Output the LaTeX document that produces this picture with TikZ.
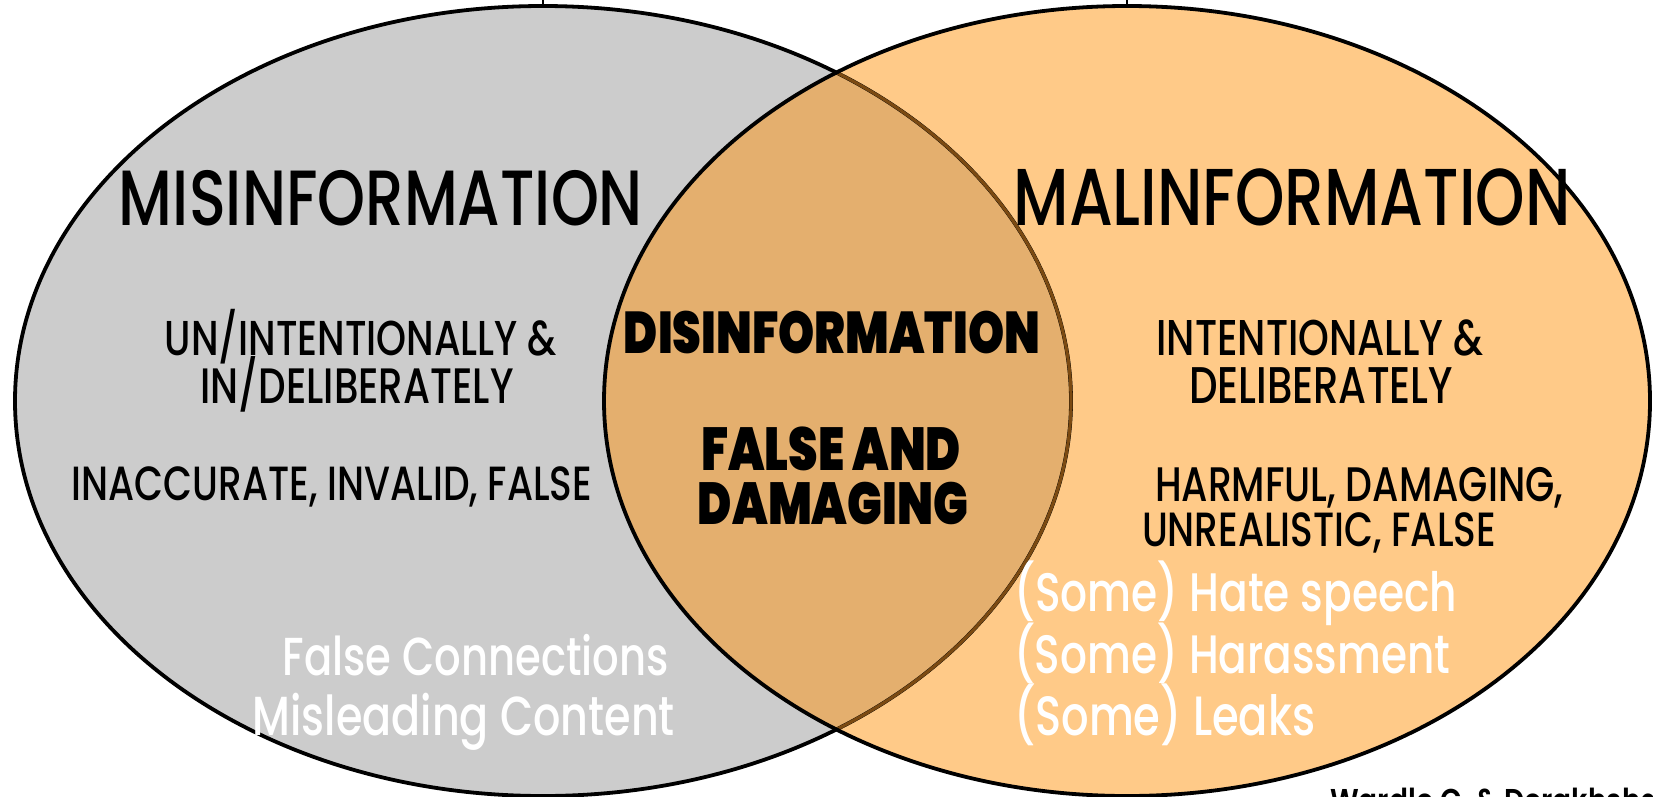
\documentclass[tikz,border=0pt]{standalone}
\usepackage{fontspec}
\usepackage{graphicx}
\newfontfamily\popm{Poppins Medium}[FakeStretch=0.78]
\newfontfamily\popk{Poppins Black}[FakeStretch=0.78]
\newfontfamily\popb{Poppins SemiBold}[FakeStretch=0.85]
\definecolor{grayfill}{HTML}{CCCCCC}
\definecolor{orfill}{HTML}{FFCA88}
\definecolor{midfill}{HTML}{E4AF6E}
\definecolor{brownline}{HTML}{7B4A12}
\newcommand\fitw[2]{\resizebox{#1pt}{!}{#2}}
\tikzset{
  edge/.style={draw=black, line width=3.8pt},
  inneredge/.style={draw=brownline, line width=3.2pt},
  lab/.style={inner sep=0pt, font=\popm\fontsize{40}{48}\selectfont, text=black},
  dislab/.style={inner sep=0pt, font=\popk\fontsize{40}{48}\selectfont, text=black},
  wlab/.style={inner sep=0pt, font=\popm\fontsize{40}{48}\selectfont, text=white},
  srclab/.style={inner sep=0pt, font=\popb\fontsize{33}{40}\selectfont, text=black},
  tickline/.style={draw=black, line width=2.2pt}
}
\begin{document}
\begin{tikzpicture}[x=1pt,y=-1pt]
\useasboundingbox (0,0) rectangle (1653,797);
% fills
\fill[grayfill] (543,401) ellipse [x radius=528pt, y radius=395pt];
\fill[orfill] (1127,401) ellipse [x radius=523pt, y radius=395pt];
\begin{scope}
  \clip (543,401) ellipse [x radius=528pt, y radius=395pt];
  \fill[midfill] (1127,401) ellipse [x radius=523pt, y radius=395pt];
\end{scope}
% outlines
\draw[edge] (543,401) ellipse [x radius=528pt, y radius=395pt];
\begin{scope}
  \clip (1127,401) ellipse [x radius=521pt, y radius=393pt];
  \draw[inneredge] (543,401) ellipse [x radius=528pt, y radius=395pt];
\end{scope}
\draw[edge] (1127,401) ellipse [x radius=523pt, y radius=395pt];
% small ticks at top
\coordinate (t1a) at (543,0); \coordinate (t1b) at (543,7);
\coordinate (t2a) at (1127,0); \coordinate (t2b) at (1127,7);
\draw[tickline] (t1a) -- (t1b);
\draw[tickline] (t2a) -- (t2b);
% titles
\node[lab, anchor=base] (mis) at (381,225) {\fitw{524}{MISINFORMATION}};
\node[lab, anchor=base] (mal) at (1292,225) {\fitw{557}{MALINFORMATION}};
\node[dislab, anchor=base] (dis) at (832,353) {\fitw{416}{DISINFORMATION}};
\node[dislab, anchor=base] (fa) at (831,470) {\fitw{260}{FALSE AND}};
\node[dislab, anchor=base] (dam) at (833,524) {\fitw{270}{DAMAGING}};
% left texts
\node[lab, anchor=base] (un) at (361,355) {\fitw{392}{UN/INTENTIONALLY \&}};
\node[lab, anchor=base] (indel) at (357,403) {\fitw{313}{IN/DELIBERATELY}};
\node[lab, anchor=base] (inacc) at (332,500) {\fitw{520}{INACCURATE, INVALID, FALSE}};
% right texts
\node[lab, anchor=base] (intent) at (1320,355) {\fitw{327}{INTENTIONALLY \&}};
\node[lab, anchor=base] (delib) at (1321,403) {\fitw{264}{DELIBERATELY}};
\node[lab, anchor=base] (harm) at (1359,501) {\fitw{408}{HARMFUL, DAMAGING,}};
\node[lab, anchor=base] (unreal) at (1319,546) {\fitw{354}{UNREALISTIC, FALSE}};
% white lists
\node[wlab, anchor=base east] (fc) at (669,675) {\fitw{386}{False Connections}};
\node[wlab, anchor=base east] (mc) at (675,735) {\fitw{422}{Misleading Content}};
\node[wlab, anchor=base west] (hs) at (1014,611) {\fitw{443}{(Some) Hate speech}};
\node[wlab, anchor=base west] (ha) at (1014,673) {\fitw{436}{(Some) Harassment}};
\node[wlab, anchor=base west] (lk) at (1014,735) {\fitw{301}{(Some) Leaks}};
% source (cut at bottom edge, as in the reference)
\node[srclab, anchor=base west] (src) at (1330,812) {Wardle C. \& Derakhshan H.};
\end{tikzpicture}
\end{document}
